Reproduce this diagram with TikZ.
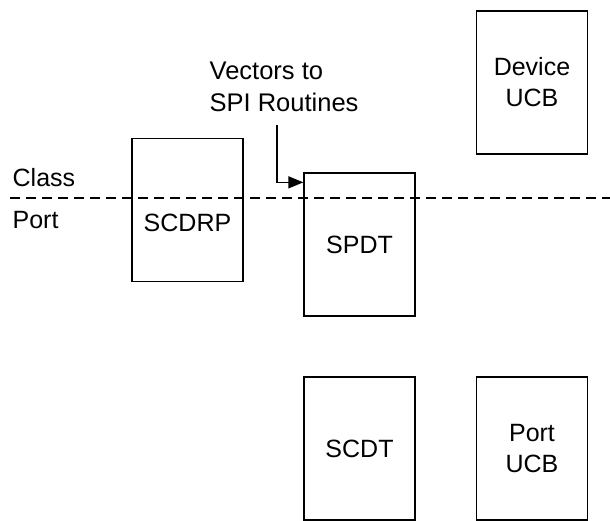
\documentclass[tikz,border=0pt]{standalone}
\usepackage{fontspec}
\setmainfont{Liberation Sans}
\usepackage{tikz}
\usetikzlibrary{arrows.meta,calc}

\tikzset{
  blockbox/.style={draw, line width=1.3pt, minimum width=111pt,
                   minimum height=143pt, inner sep=0pt, align=center},
  layerline/.style={line width=1.3pt, dash pattern=on 9.5pt off 6.5pt},
  plainlbl/.style={anchor=base west, inner sep=0pt},
}

\begin{document}
\begin{tikzpicture}[x=1pt, y=-1pt, line width=1.3pt,
                    font=\fontsize{25}{31}\selectfont]

  \useasboundingbox (0,0) rectangle (610,521);

  \coordinate (dashL) at (10,198);
  \coordinate (dashR) at (610,198);
  \coordinate (vecStart) at (277,125);

  %--- Class / Port boundary ----------------------------------------------
  \draw[layerline] (dashL) -- (dashR);
  \node[plainlbl] (classLbl) at (12,187) {Class};
  \node[plainlbl] (portLbl)  at (12,229) {Port};

  %--- Blocks --------------------------------------------------------------
  \node[blockbox] (scdrp)  at (187.5,210)   {};
  \node (scdrpTxt) at (187.5,223) {SCDRP};
  \node[blockbox] (spdt)   at (359.5,244.5) {SPDT};
  \node[blockbox] (devucb) at (532,82.5)    {Device\\UCB};
  \node[blockbox] (scdt)   at (359.5,448.5) {SCDT};
  \node[blockbox] (prtucb) at (532,448.5)   {Port\\UCB};

  %--- Vectors to SPI routines ---------------------------------------------
  \node[plainlbl, align=left,
        font=\fontsize{25.5}{32}\selectfont] (vecLbl) at (209,112)
        {Vectors to\\SPI Routines};
  \draw[-{Triangle[length=15pt,width=12pt]}]
        (vecStart) |- ($(spdt.north west)+(0,10)$);

\end{tikzpicture}
\end{document}
